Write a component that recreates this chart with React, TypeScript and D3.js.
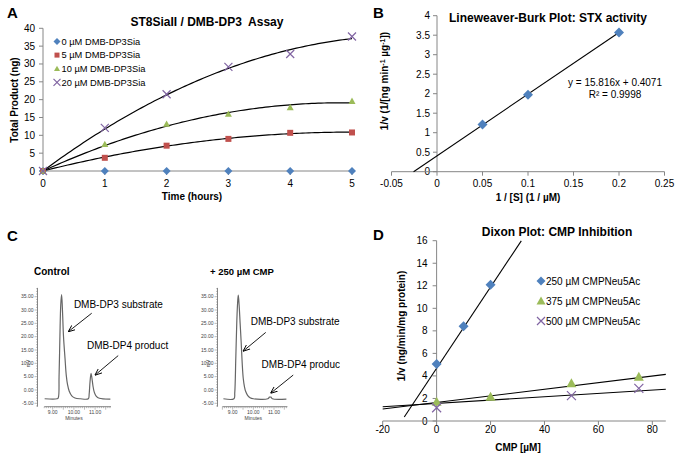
import React from "react";
import * as d3 from "d3";

const FONT = "'Liberation Sans', Arial, sans-serif";
const BLUE = "#4F81BD";
const RED = "#C0504D";
const GREEN = "#9BBB59";
const PURPLE = "#8064A2";
const AXIS = "#868686";

// ---- Panel A: product vs time
const hours = [0, 1, 2, 3, 4, 5];
const acceptorLabels = ["0 µM DMB-DP3Sia", "5 µM DMB-DP3Sia", "10 µM DMB-DP3Sia", "20 µM DMB-DP3Sia"];
const product0 = [0, 0, 0, 0, 0, 0];
const product5 = [0, 3.7, 7.1, 9.0, 10.7, 10.8];
const product10 = [0, 7.5, 13.2, 16.0, 17.8, 19.6];
const product20 = [0, 12.1, 21.5, 29.2, 32.8, 37.7];
const timeTicks = [0, 1, 2, 3, 4, 5];
const productTicks = [0, 5, 10, 15, 20, 25, 30, 35, 40];

// ---- Panel B: Lineweaver-Burk
const invS = [0.05, 0.1, 0.2];
const invV = [1.21, 1.97, 3.57];
const lbSlope = 15.816;
const lbIntercept = 0.4071;
const lbXTicks = [-0.05, 0, 0.05, 0.1, 0.15, 0.2, 0.25];
const lbYTicks = [0, 0.5, 1, 1.5, 2, 2.5, 3, 3.5, 4];

// ---- Panel C: chromatograms (minutes, mV)
const controlTrace = [
  [8.62, -3.3], [9.2, -3.3], [9.26, -3.0], [9.3, 5], [9.34, 20], [9.38, 32], [9.42, 35.8],
  [9.46, 30], [9.51, 20], [9.58, 12], [9.64, 5.5], [9.7, 2], [9.78, -0.5], [9.9, -2.2],
  [10.05, -3.0], [10.3, -3.3], [10.68, -3.3], [10.72, -1.5], [10.76, 3], [10.81, 6.2],
  [10.85, 4.5], [10.9, 1.5], [10.96, -0.8], [11.05, -2.3], [11.2, -3.1], [11.72, -3.4],
];
const cmpTrace = [
  [8.55, -3.3], [9.06, -3.3], [9.1, -1], [9.15, 12], [9.2, 26], [9.24, 33], [9.27, 35.6],
  [9.31, 32], [9.36, 25], [9.41, 18], [9.46, 10], [9.51, 4.4], [9.57, 1.2], [9.63, -0.6],
  [9.72, -2.0], [9.84, -2.9], [10.0, -3.3], [10.7, -3.3], [10.78, -2.7], [10.85, -2.7],
  [10.92, -3.3], [11.6, -3.4],
];
const mvTicks = [-5, 0, 5, 10, 15, 20, 25, 30, 35];
const minuteTicks = [9, 10, 11];
// annotations: text anchor (t, mV), arrow from (t, mV) to (t, mV)
const controlNotes = [
  { text: "DMB-DP3 substrate", t: 10.0, mv: 30.9, x1: 10.84, y1: 28.8, x2: 9.74, y2: 21.9 },
  { text: "DMB-DP4 product", t: 10.62, mv: 15.4, x1: 12.09, y1: 12.9, x2: 11.0, y2: 5.6 },
];
const cmpNotes = [
  { text: "DMB-DP3 substrate", t: 9.87, mv: 24.2, x1: 10.6, y1: 21.6, x2: 9.51, y2: 14.6 },
  { text: "DMB-DP4 product", t: 10.4, mv: 8.1, x1: 11.93, y1: 5.6, x2: 10.84, y2: -1.2 },
];

// ---- Panel D: Dixon plot
const dixonLabels = ["250 µM CMPNeu5Ac", "375 µM CMPNeu5Ac", "500 µM CMPNeu5Ac"];
const cmp250 = [0, 10, 20];
const inv250 = [5.05, 8.4, 12.1];
const cmp375 = [0, 20, 50, 75];
const inv375 = [1.71, 2.16, 3.34, 3.93];
const cmp500 = [0, 50, 75];
const inv500 = [1.18, 2.25, 2.9];
const dixonSlopes = [0.36, 0.0293, 0.0147];
const dixonIntercepts = [4.68, 1.646, 1.563];
const dixonLineFrom = [-12, -20, -20];
const dixonLineTo = [31.4, 85, 85];
const dixonXTicks = [-20, 0, 20, 40, 60, 80];
const dixonYTicks = [0, 2, 4, 6, 8, 10, 12, 14, 16];

type Kind = "diamond" | "square" | "triangle" | "cross";

function Marker({ kind, x, y, color, r }: { kind: Kind; x: number; y: number; color: string; r: number }) {
  if (kind === "square") return <rect x={x - r} y={y - r} width={2 * r} height={2 * r} fill={color} />;
  if (kind === "cross")
    return (
      <path
        d={`M${x - r},${y - r}L${x + r},${y + r}M${x - r},${y + r}L${x + r},${y - r}`}
        stroke={color}
        strokeWidth={1.2}
        fill="none"
      />
    );
  if (kind === "triangle")
    return <path d={`M${x},${y - r}L${x + r},${y + r * 0.8}L${x - r},${y + r * 0.8}Z`} fill={color} />;
  return <path d={`M${x},${y - r}L${x + r},${y}L${x},${y + r}L${x - r},${y}Z`} fill={color} />;
}

// least squares y = a x + b x^2 (trendline through origin)
function quadFit(xs: number[], ys: number[]) {
  let s2 = 0, s3 = 0, s4 = 0, sxy = 0, sx2y = 0;
  xs.forEach((x, i) => {
    s2 += x * x; s3 += x ** 3; s4 += x ** 4;
    sxy += x * ys[i]; sx2y += x * x * ys[i];
  });
  const det = s2 * s4 - s3 * s3;
  const a = (sxy * s4 - s3 * sx2y) / det;
  const b = (s2 * sx2y - s3 * sxy) / det;
  return (x: number) => a * x + b * x * x;
}

function PanelA() {
  const x = d3.scaleLinear().domain([0, 5]).range([43, 352]);
  const y = d3.scaleLinear().domain([0, 40]).range([171, 28.3]);
  const series = [
    { ys: product0, kind: "diamond" as Kind, color: BLUE, r: 4, fit: false },
    { ys: product5, kind: "square" as Kind, color: RED, r: 3, fit: true },
    { ys: product10, kind: "triangle" as Kind, color: GREEN, r: 3.5, fit: true },
    { ys: product20, kind: "cross" as Kind, color: PURPLE, r: 4, fit: true },
  ];
  const samples = d3.range(0, 5.001, 0.05);
  const line = d3.line<number[]>().x((d) => x(d[0])).y((d) => y(d[1]));
  return (
    <g>
      <text x={7} y={18} fontSize={15} fontWeight="bold">A</text>
      <text x={207} y={26} fontSize={12} fontWeight="bold" textAnchor="middle" style={{ whiteSpace: "pre" }}>
        ST8SiaII / DMB-DP3  Assay
      </text>
      <line x1={x(0)} x2={x(0)} y1={y(0)} y2={y(40)} stroke={AXIS} />
      {productTicks.map((t) => (
        <g key={t}>
          <line x1={x(0) - 4} x2={x(0)} y1={y(t)} y2={y(t)} stroke={AXIS} />
          <text x={x(0) - 8} y={y(t)} dy="0.35em" fontSize={10} textAnchor="end">{t}</text>
        </g>
      ))}
      <line x1={x(0)} x2={x(5)} y1={y(0)} y2={y(0)} stroke={AXIS} />
      {timeTicks.map((t) => (
        <g key={t}>
          <line x1={x(t)} x2={x(t)} y1={y(0)} y2={y(0) + 4} stroke={AXIS} />
          <text x={x(t)} y={187} fontSize={10} textAnchor="middle">{t}</text>
        </g>
      ))}
      <text x={192} y={200} fontSize={10} fontWeight="bold" textAnchor="middle">Time (hours)</text>
      <text transform="translate(18,100) rotate(-90)" fontSize={10} fontWeight="bold" textAnchor="middle">
        Total Product (ng)
      </text>
      {series.filter((s) => s.fit).map((s, i) => {
        const f = quadFit(hours, s.ys);
        return <path key={i} d={line(samples.map((t) => [t, f(t)])) || ""} fill="none" stroke="#000" strokeWidth={1.2} />;
      })}
      {series.map((s, i) =>
        hours.map((h, j) => <Marker key={`${i}-${j}`} kind={s.kind} x={x(h)} y={y(s.ys[j])} color={s.color} r={s.r} />)
      )}
      {acceptorLabels.map((lab, i) => (
        <g key={lab}>
          <Marker kind={series[i].kind} x={57} y={41.5 + i * 13.6} color={series[i].color} r={series[i].r - 0.5} />
          <text x={61.5} y={41.5 + i * 13.6} dy="0.35em" fontSize={9.3}>{lab}</text>
        </g>
      ))}
    </g>
  );
}

function PanelB() {
  const x = d3.scaleLinear().domain([-0.05, 0.25]).range([391.5, 664.5]);
  const y = d3.scaleLinear().domain([0, 4]).range([171.7, 15.7]);
  const x0 = -lbIntercept / lbSlope;
  const x1 = d3.max(invS) as number;
  return (
    <g>
      <text x={373} y={18} fontSize={15} fontWeight="bold">B</text>
      <text x={548} y={21.5} fontSize={12} fontWeight="bold" textAnchor="middle">Lineweaver-Burk Plot: STX activity</text>
      <line x1={x(0)} x2={x(0)} y1={y(0)} y2={y(4)} stroke={AXIS} />
      {lbYTicks.map((t) => (
        <g key={t}>
          <line x1={x(0) - 4} x2={x(0)} y1={y(t)} y2={y(t)} stroke={AXIS} />
          <text x={x(0) - 7} y={y(t)} dy="0.35em" fontSize={10} textAnchor="end">{t}</text>
        </g>
      ))}
      <line x1={x(-0.05)} x2={x(0.25)} y1={y(0)} y2={y(0)} stroke={AXIS} />
      {lbXTicks.map((t) => (
        <g key={t}>
          <line x1={x(t)} x2={x(t)} y1={y(0)} y2={y(0) + 4} stroke={AXIS} />
          <text x={x(t)} y={187} fontSize={10} textAnchor="middle">{String(t)}</text>
        </g>
      ))}
      <text x={528} y={201} fontSize={10} fontWeight="bold" textAnchor="middle">1 / [S] (1 / µM)</text>
      <text transform="translate(388,81) rotate(-90)" fontSize={10} fontWeight="bold" textAnchor="middle">
        1/v (1/[ng min<tspan fontSize={7} baselineShift="super">-1</tspan> µg<tspan fontSize={7} baselineShift="super">-1</tspan>])
      </text>
      <line x1={x(x0)} y1={y(0)} x2={x(x1)} y2={y(lbSlope * x1 + lbIntercept)} stroke="#000" strokeWidth={1.1} />
      {invS.map((s, i) => (
        <Marker key={i} kind="diamond" x={x(s)} y={y(invV[i])} color={BLUE} r={5} />
      ))}
      <text x={615} y={86} fontSize={10} textAnchor="middle">{`y = ${lbSlope}x + ${lbIntercept}`}</text>
      <text x={615} y={97.5} fontSize={10} textAnchor="middle">R² = 0.9998</text>
    </g>
  );
}

function Chromatogram({
  trace, notes, title, titleX, titleSize, axisX, domain, range, clipId,
}: {
  trace: number[][]; notes: typeof controlNotes; title: string; titleX: number; titleSize: number;
  axisX: number; domain: [number, number]; range: [number, number]; clipId: string;
}) {
  const y = d3.scaleLinear().domain([-5, 35]).range([403.3, 296.7]);
  const x = d3.scaleLinear().domain([9, 10]).range(range);
  const line = d3.line<number[]>().x((d) => x(d[0])).y((d) => y(d[1])).curve(d3.curveCatmullRom);
  const minorY = d3.range(-6, 38.01, 1);
  const minorX = d3.range(Math.ceil(domain[0] * 10) / 10, domain[1], 0.1);
  const base = y(-6.27);
  return (
    <g>
      <text x={titleX} y={275} fontSize={titleSize} fontWeight="bold">{title}</text>
      <line x1={axisX} x2={axisX} y1={y(38.3)} y2={base} stroke="#555" strokeWidth={0.7} />
      {minorY.map((t) => (
        <line key={t} x1={axisX - (t % 5 === 0 ? 3 : 1.5)} x2={axisX} y1={y(t)} y2={y(t)} stroke="#777" strokeWidth={0.5} />
      ))}
      {mvTicks.map((t) => (
        <text key={t} x={axisX - 4} y={y(t)} dy="0.35em" fontSize={5} fill="#444" textAnchor="end">{t.toFixed(2)}</text>
      ))}
      <text transform={`translate(${axisX - 7.5},${y(10)}) rotate(-90)`} fontSize={5} fill="#444" textAnchor="middle">mV</text>
      <line x1={x(domain[0])} x2={x(domain[1])} y1={base} y2={base} stroke="#555" strokeWidth={0.7} />
      {minorX.map((t) => (
        <line key={t} x1={x(t)} x2={x(t)} y1={base} y2={base + (Math.abs(t * 2 - Math.round(t * 2)) < 0.01 ? 3 : 1.5)} stroke="#777" strokeWidth={0.5} />
      ))}
      {minuteTicks.map((t) => (
        <text key={t} x={x(t)} y={413.5} fontSize={5} fill="#444" textAnchor="middle">{t.toFixed(2)}</text>
      ))}
      <text x={x(10)} y={420} fontSize={5} fill="#444" textAnchor="middle">Minutes</text>
      <path d={line(trace) || ""} fill="none" stroke="#666" strokeWidth={1.2} />
      <g clipPath={`url(#${clipId})`}>
        {notes.map((n) => (
          <g key={n.text}>
            <text x={x(n.t)} y={y(n.mv)} fontSize={10}>{n.text}</text>
            <line x1={x(n.x1)} y1={y(n.y1)} x2={x(n.x2)} y2={y(n.y2)} stroke="#000" strokeWidth={0.9} markerEnd="url(#arrowHead)" />
          </g>
        ))}
      </g>
    </g>
  );
}

function PanelC() {
  return (
    <g>
      <text x={7} y={241} fontSize={15} fontWeight="bold">C</text>
      <Chromatogram trace={controlTrace} notes={controlNotes} title="Control" titleX={34} titleSize={10}
        axisX={37.5} domain={[8.6, 11.75]} range={[52.7, 73.9]} clipId="clipC" />
      <Chromatogram trace={cmpTrace} notes={cmpNotes} title="+ 250 µM CMP" titleX={210} titleSize={9.5}
        axisX={217.5} domain={[8.5, 11.65]} range={[232.7, 253.35]} clipId="clipC" />
    </g>
  );
}

function PanelD() {
  const x = d3.scaleLinear().domain([-20, 85]).range([382.7, 665.8]);
  const y = d3.scaleLinear().domain([0, 16]).range([421, 240.7]);
  const series = [
    { xs: cmp250, ys: inv250, kind: "diamond" as Kind, color: BLUE, r: 5 },
    { xs: cmp375, ys: inv375, kind: "triangle" as Kind, color: GREEN, r: 5 },
    { xs: cmp500, ys: inv500, kind: "cross" as Kind, color: PURPLE, r: 4.5 },
  ];
  return (
    <g>
      <text x={373} y={240} fontSize={15} fontWeight="bold">D</text>
      <text x={557} y={235.5} fontSize={12} fontWeight="bold" textAnchor="middle">Dixon Plot: CMP Inhibition</text>
      <line x1={x(0)} x2={x(0)} y1={y(0)} y2={y(16)} stroke={AXIS} />
      {dixonYTicks.map((t) => (
        <g key={t}>
          <line x1={x(0) - 4} x2={x(0)} y1={y(t)} y2={y(t)} stroke={AXIS} />
          <text x={x(0) - 9} y={y(t)} dy="0.35em" fontSize={10} textAnchor="end">{t}</text>
        </g>
      ))}
      <line x1={x(-20)} x2={x(85)} y1={y(0)} y2={y(0)} stroke={AXIS} />
      {dixonXTicks.map((t) => (
        <g key={t}>
          <line x1={x(t)} x2={x(t)} y1={y(0)} y2={y(0) + 4} stroke={AXIS} />
          <text x={x(t)} y={433} fontSize={10} textAnchor="middle">{t}</text>
        </g>
      ))}
      <text x={518} y={451} fontSize={10} fontWeight="bold" textAnchor="middle">CMP [µM]</text>
      <text transform="translate(405,326) rotate(-90)" fontSize={10} fontWeight="bold" textAnchor="middle">
        1/v (ng/min/mg protein)
      </text>
      {dixonSlopes.map((m, i) => (
        <line key={i} x1={x(dixonLineFrom[i])} y1={y(m * dixonLineFrom[i] + dixonIntercepts[i])}
          x2={x(dixonLineTo[i])} y2={y(m * dixonLineTo[i] + dixonIntercepts[i])} stroke="#000" strokeWidth={1.1} />
      ))}
      {series.map((s, i) =>
        s.xs.map((v, j) => <Marker key={`${i}-${j}`} kind={s.kind} x={x(v)} y={y(s.ys[j])} color={s.color} r={s.r} />)
      )}
      {dixonLabels.map((lab, i) => (
        <g key={lab}>
          <Marker kind={series[i].kind} x={541} y={281 + i * 20} color={series[i].color} r={series[i].r - 0.5} />
          <text x={546} y={281 + i * 20} dy="0.35em" fontSize={10}>{lab}</text>
        </g>
      ))}
    </g>
  );
}

export default function App() {
  return (
    <svg width={683} height={459} style={{ position: "absolute", left: 0, top: 0, background: "#fff" }} fontFamily={FONT}>
      <defs>
        <marker id="arrowHead" viewBox="0 0 10 10" refX={9.5} refY={5} markerWidth={7} markerHeight={7}
          markerUnits="userSpaceOnUse" orient="auto">
          <path d="M0,1L10,5L0,9" fill="none" stroke="#000" strokeWidth={1.3} />
        </marker>
        <clipPath id="clipC">
          <rect x={0} y={225} width={340} height={234} />
        </clipPath>
      </defs>
      <rect width={683} height={459} fill="#fff" />
      <PanelA />
      <PanelB />
      <PanelC />
      <PanelD />
    </svg>
  );
}
